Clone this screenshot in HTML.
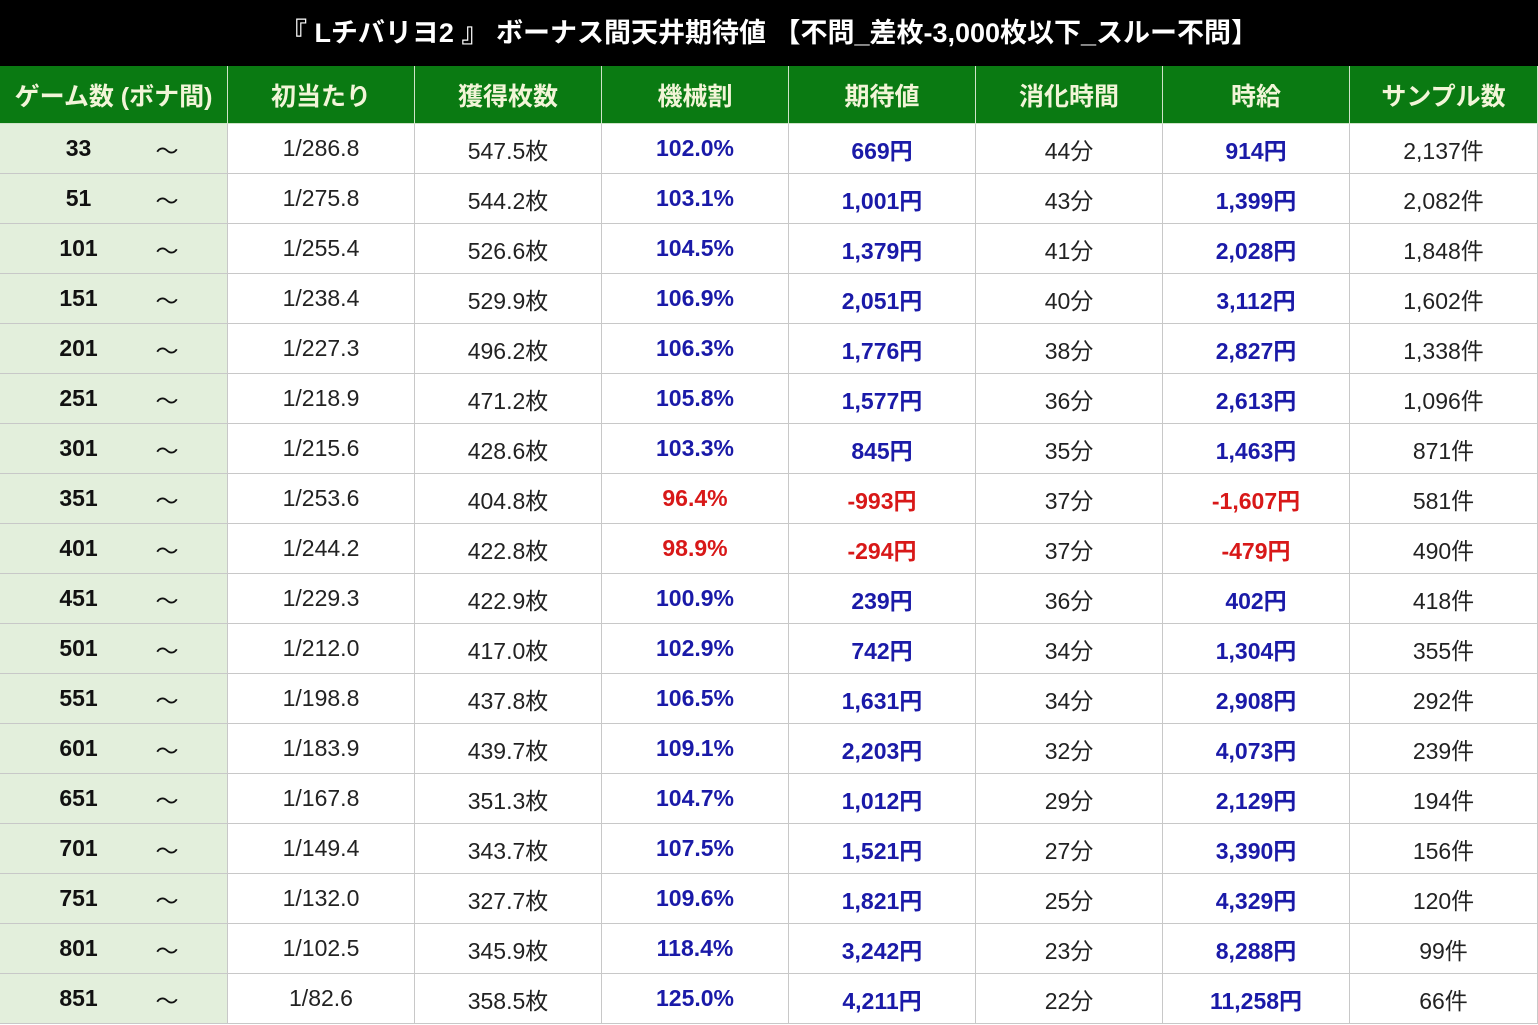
<!DOCTYPE html>
<html><head><meta charset="utf-8"><style>
*{margin:0;padding:0;box-sizing:border-box}
body{width:1538px;height:1025px;background:#fff;font-family:"Liberation Sans","Noto Sans CJK JP",sans-serif;overflow:hidden;position:relative}
#title{position:absolute;left:0;top:0;width:1538px;height:66px;background:#000;color:#fff;font-weight:bold;font-size:27px;line-height:66px;text-align:center}
.c{position:absolute;display:flex;align-items:center;justify-content:center;border-right:1px solid #c8c8c8;border-bottom:1px solid #c8c8c8;font-size:23px;color:#222}
.h{background:#0a7a12;color:#f2f5d8;font-weight:bold;font-size:25px;border-color:#cfe3c8}
.g{background:#e3efdc;font-weight:bold;color:#111}
.b{color:#1a1aa8;font-weight:bold}
.r{color:#d81818;font-weight:bold}
</style></head><body>
<div id="title">『 Lチバリヨ2 』 ボーナス間天井期待値 【不問_差枚-3,000枚以下_スルー不問】</div>
<div id="tbl"></div>
<script>
const headers=["ゲーム数 (ボナ間)","初当たり","獲得枚数","機械割","期待値","消化時間","時給","サンプル数"];
const games=[33,51,101,151,201,251,301,351,401,451,501,551,601,651,701,751,801,851];
const hits=["1/286.8","1/275.8","1/255.4","1/238.4","1/227.3","1/218.9","1/215.6","1/253.6","1/244.2","1/229.3","1/212.0","1/198.8","1/183.9","1/167.8","1/149.4","1/132.0","1/102.5","1/82.6"];
const coins=["547.5","544.2","526.6","529.9","496.2","471.2","428.6","404.8","422.8","422.9","417.0","437.8","439.7","351.3","343.7","327.7","345.9","358.5"];
const rates=["102.0","103.1","104.5","106.9","106.3","105.8","103.3","96.4","98.9","100.9","102.9","106.5","109.1","104.7","107.5","109.6","118.4","125.0"];
const evs=["669","1,001","1,379","2,051","1,776","1,577","845","-993","-294","239","742","1,631","2,203","1,012","1,521","1,821","3,242","4,211"];
const mins=[44,43,41,40,38,36,35,37,37,36,34,34,32,29,27,25,23,22];
const wages=["914","1,399","2,028","3,112","2,827","2,613","1,463","-1,607","-479","402","1,304","2,908","4,073","2,129","3,390","4,329","8,288","11,258"];
const samples=["2,137","2,082","1,848","1,602","1,338","1,096","871","581","490","418","355","292","239","194","156","120","99","66"];
const xs=[0,228,415,602,789,976,1163,1350,1538];
const names=["game-count","first-hit","coins-won","payout-rate","expected-value","play-time","hourly-wage","sample-count"];
const tbl=document.getElementById('tbl');
function cell(x0,x1,y,h,cls,html,name){const d=document.createElement('div');d.className='c '+cls;d.style.left=x0+'px';d.style.top=y+'px';d.style.width=(x1-x0)+'px';d.style.height=h+'px';d.innerHTML=html;


tbl.appendChild(d);}
headers.forEach((t,i)=>cell(xs[i],xs[i+1],66,58,'h',t,names[i]+'-header'));
games.forEach((g,r)=>{
 const y=124+r*50;
 const neg=evs[r].startsWith('-');
 const vals=['<span style="display:inline-block;width:60px;text-align:center">'+g+'</span><span style="display:inline-block;width:70px;text-align:right;font-weight:normal">～</span>',hits[r],coins[r]+'枚',rates[r]+'%',evs[r]+'円',mins[r]+'分',wages[r]+'円',samples[r]+'件'];
 vals.forEach((v,i)=>{let cls='';if(i==0)cls='g';else if(i==3||i==4||i==6)cls=neg?'r':'b';
  cell(xs[i],xs[i+1],y,50,cls,v,names[i]+'-cell-'+g);});
});
</script>
</body></html>
